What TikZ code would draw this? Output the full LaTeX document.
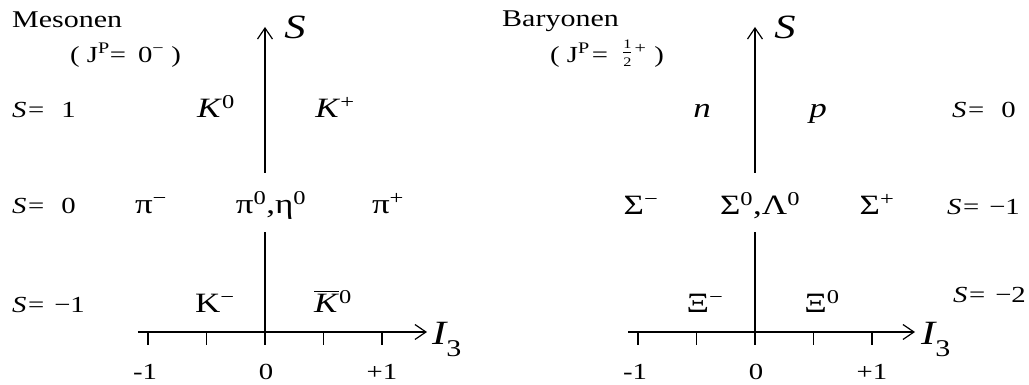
\documentclass[tikz,border=0pt]{standalone}
\usepackage{amsmath}
\usepackage{fontspec}
\setmainfont{Liberation Serif}[FakeStretch=1.25]
\usetikzlibrary{arrows.meta}
\newcommand{\halb}{\raisebox{5pt}{$\genfrac{}{}{0.5pt}{}{\text{\fontsize{13}{13}\selectfont 1}}{\text{\fontsize{13}{13}\selectfont 2}}$}}

\begin{document}
\begin{tikzpicture}[x=1pt,y=1pt,
    strich/.style={line width=1.8pt},
    pfeil/.style={strich, -{Straight Barb[length=11pt,width=15pt,line width=1.2pt]}},
    titel/.style={font=\fontsize{23}{26}\selectfont, anchor=base west, inner sep=0pt},
    gruppe/.style={titel, font=\fontsize{24}{26}\selectfont},
    teilchen/.style={font=\fontsize{28}{30}\selectfont, anchor=base, inner sep=0pt},
    achsname/.style={font=\fontsize{34}{40}\selectfont\itshape, inner sep=0pt},
    wert/.style={font=\fontsize{23}{26}\selectfont, anchor=base, inner sep=0pt}]
    \useasboundingbox (-265,-53) rectangle (764,332);

    \coordinate (mlinks) at (-127,0);
    \coordinate (mrechts) at (162,0);
    \coordinate (munten) at (0,-13);
    \coordinate (mluecke1) at (0,100);
    \coordinate (mluecke2) at (0,159);
    \coordinate (moben) at (0,305);
    \draw[pfeil] (mlinks) -- (mrechts);
    \draw[strich] (munten) -- (mluecke1);
    \draw[pfeil] (mluecke2) -- (moben);
    \foreach \x in {-117,-58.5,58.5,117} {\draw[strich] (\x,0) -- (\x,-13);}
    \node[achsname] (ms) at (30,305) {S};
    \node[achsname, anchor=base west] (mi) at (167,-13) {I\raisebox{-12pt}{\fontsize{24}{24}\selectfont\upshape 3}};
    \node[wert] (mm1) at (-120,-48) {-1};
    \node[wert] (mnull) at (1,-48) {0};
    \node[wert] (mp1) at (117,-48) {+1};

    \node[gruppe] (mes) at (-253,304) {Mesonen};
    \node[titel] (mesjp) at (-195,269) {( J\textsuperscript{P}=\hspace{12pt}0\textsuperscript{−} )};
    \node[titel] (ms1) at (-253,214) {\textit{S}\hspace{1.5pt}=\hspace{17pt}1};
    \node[titel] (ms0) at (-253,118) {\textit{S}\hspace{1.5pt}=\hspace{17pt}0};
    \node[titel] (msm1) at (-253,19) {\textit{S}\hspace{1.5pt}=\hspace{10pt}−1};

    \node[teilchen] (k0) at (-49,214) {\textit{K}\textsuperscript{0}};
    \node[teilchen] (kp) at (70,214) {\textit{K}\textsuperscript{+}};
    \node[teilchen] (pim) at (-114,118) {π\textsuperscript{−}};
    \node[teilchen] (pi0) at (6,118) {π\textsuperscript{0},η\textsuperscript{0}};
    \node[teilchen] (pip) at (123,118) {π\textsuperscript{+}};
    \node[teilchen] (km) at (-50,19) {K\textsuperscript{−}};
    \node[teilchen] (kq) at (68,19) {$\overline{\mbox{\textit{K}}}$\textsuperscript{0}};

    \begin{scope}[shift={(490,0)}]
        \coordinate (blinks) at (-127,0);
        \coordinate (brechts) at (160,0);
        \coordinate (bunten) at (0,-13);
        \coordinate (bluecke1) at (0,100);
        \coordinate (bluecke2) at (0,159);
        \coordinate (boben) at (0,305);
        \draw[pfeil] (blinks) -- (brechts);
        \draw[strich] (bunten) -- (bluecke1);
        \draw[pfeil] (bluecke2) -- (boben);
        \foreach \x in {-117,-58.5,58.5,117} {\draw[strich] (\x,0) -- (\x,-13);}
        \node[achsname] (bs) at (30,305) {S};
        \node[achsname, anchor=base west] (bi) at (166,-13) {I\raisebox{-12pt}{\fontsize{24}{24}\selectfont\upshape 3}};
        \node[wert] (bm1) at (-120,-48) {-1};
        \node[wert] (bnull) at (1,-48) {0};
        \node[wert] (bp1) at (117,-48) {+1};

        \node[gruppe] (bar) at (-253,305) {Baryonen};
        \node[titel] (barjp) at (-205,269) {( J\textsuperscript{P}\hspace{2pt}=\hspace{14pt}\halb\hspace{2pt}\textsuperscript{+}\hspace{8pt})};
        \node[titel] (bs0) at (197,214) {\textit{S}\hspace{1.5pt}=\hspace{17pt}0};
        \node[titel] (bsm1) at (192,117) {\textit{S}\hspace{1.5pt}=\hspace{10pt}−1};
        \node[titel] (bsm2) at (198,29) {\textit{S}\hspace{1.5pt}=\hspace{10pt}−2};

        \node[teilchen] (n) at (-53,214) {\textit{n}};
        \node[teilchen] (p) at (63,214) {\textit{p}};
        \node[teilchen] (sm) at (-114,117) {Σ\textsuperscript{−}};
        \node[teilchen] (s0) at (5,117) {Σ\textsuperscript{0},Λ\textsuperscript{0}};
        \node[teilchen] (sp) at (122,117) {Σ\textsuperscript{+}};
        \node[teilchen] (xm) at (-50,19) {Ξ\textsuperscript{−}};
        \node[teilchen] (x0) at (67,19) {Ξ\textsuperscript{0}};
    \end{scope}
\end{tikzpicture}
\end{document}
